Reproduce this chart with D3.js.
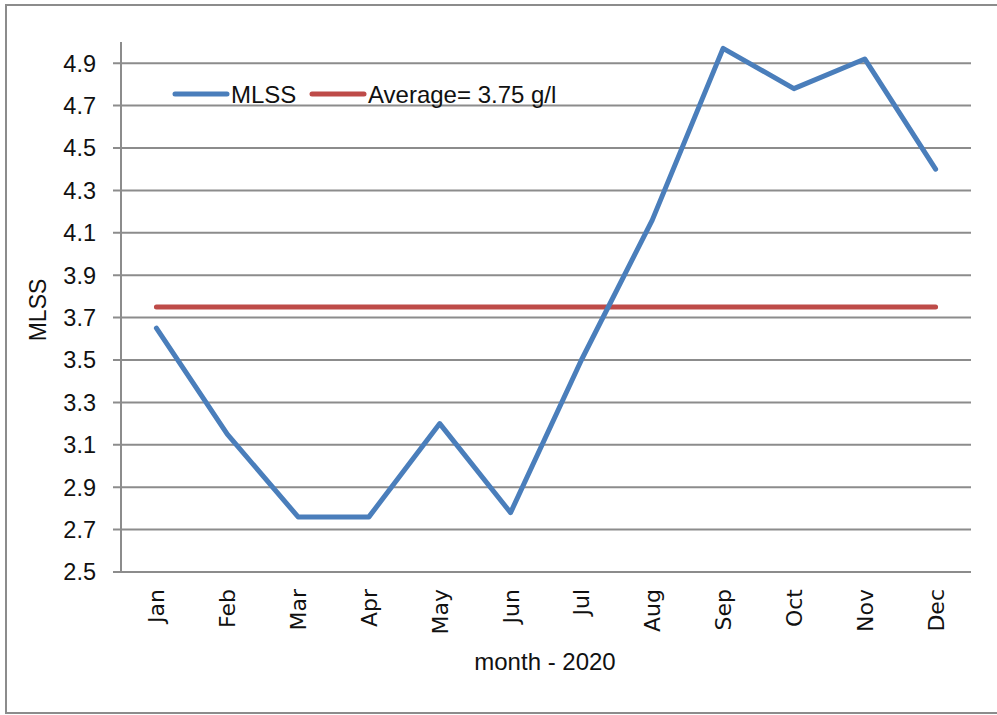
<!DOCTYPE html>
<html><head><meta charset="utf-8">
<script src="https://cdn.jsdelivr.net/npm/d3@7"></script>
<style>html,body{margin:0;padding:0;background:#fff;}svg{display:block;}</style>
</head><body>
<svg id="chart" width="997" height="715"></svg>
<script>
const months = ["Jan","Feb","Mar","Apr","May","Jun","Jul","Aug","Sep","Oct","Nov","Dec"];
const mlss = [3.65, 3.15, 2.76, 2.76, 3.20, 2.78, 3.50, 4.16, 4.97, 4.78, 4.92, 4.40];
const averageValue = 3.75;
const yTicks = [2.5, 2.7, 2.9, 3.1, 3.3, 3.5, 3.7, 3.9, 4.1, 4.3, 4.5, 4.7, 4.9];
const seriesNames = ["MLSS", "Average= 3.75 g/l"];

const svg = d3.select("#chart");
const L = 121, R = 971, T = 42, B = 572;
const x = d3.scaleBand().domain(months).range([L, R]);
const y = d3.scaleLinear().domain([2.5, 5.0]).range([B, T]);
const grid = "#8c8c8c";
const blue = "#4A7EBB", red = "#BE4B48";
const font = "Liberation Sans, Arial, sans-serif";

// outer frame
svg.append("rect").attr("x", 6).attr("y", 5).attr("width", 1000).attr("height", 708)
  .attr("fill", "none").attr("stroke", grid).attr("stroke-width", 2);

// gridlines
svg.append("g").selectAll("line").data(yTicks).join("line")
  .attr("x1", L - 8).attr("x2", R)
  .attr("y1", d => y(d)).attr("y2", d => y(d))
  .attr("stroke", grid).attr("stroke-width", 2);

// y axis line
svg.append("line").attr("x1", L).attr("x2", L).attr("y1", T).attr("y2", B)
  .attr("stroke", grid).attr("stroke-width", 2);

// y tick labels
svg.append("g").selectAll("text").data(yTicks).join("text")
  .attr("x", 96).attr("y", d => y(d)).attr("dy", "0.36em")
  .attr("text-anchor", "end")
  .attr("font-family", font).attr("font-size", 23.5)
  .attr("fill", "#111").text(d => d3.format(".1f")(d));

// x labels rotated
svg.append("g").selectAll("text").data(months).join("text")
  .attr("transform", d => `translate(${x(d) + x.bandwidth() / 2},589) rotate(-90)`)
  .attr("dy", "0.36em").attr("text-anchor", "end")
  .attr("font-family", "DejaVu Sans, sans-serif").attr("font-size", 22)
  .attr("fill", "#111").text(d => d);

// axis titles
svg.append("text").attr("x", 545).attr("y", 670).attr("text-anchor", "middle")
  .attr("font-family", font).attr("font-size", 24)
  .attr("fill", "#111").text("month - 2020");
svg.append("text").attr("transform", "translate(46,310) rotate(-90)")
  .attr("text-anchor", "middle")
  .attr("font-family", font).attr("font-size", 23)
  .attr("fill", "#111").text("MLSS");

// average line
const avgData = months.map(m => ({m, v: averageValue}));
const line = d3.line().x(d => x(d.m) + x.bandwidth() / 2).y(d => y(d.v));
svg.append("path").datum(avgData).attr("d", line)
  .attr("fill", "none").attr("stroke", red).attr("stroke-width", 5).attr("stroke-linecap", "round");

// mlss line
const mlssData = months.map((m, i) => ({m, v: mlss[i]}));
svg.append("path").datum(mlssData).attr("d", line)
  .attr("fill", "none").attr("stroke", blue).attr("stroke-width", 5)
  .attr("stroke-linecap", "round").attr("stroke-linejoin", "round");

// legend
const leg = svg.append("g");
const legItems = [{name: seriesNames[0], color: blue, x: 175}, {name: seriesNames[1], color: red, x: 312}];
legItems.forEach(it => {
  leg.append("line").attr("x1", it.x).attr("x2", it.x + 52).attr("y1", 94).attr("y2", 94)
    .attr("stroke", it.color).attr("stroke-width", 5).attr("stroke-linecap", "round");
  leg.append("text").attr("x", it.x + 56).attr("y", 94).attr("dy", "0.36em")
    .attr("font-family", font).attr("font-size", 24)
    .attr("fill", "#111").text(it.name);
});
</script>
</body></html>
